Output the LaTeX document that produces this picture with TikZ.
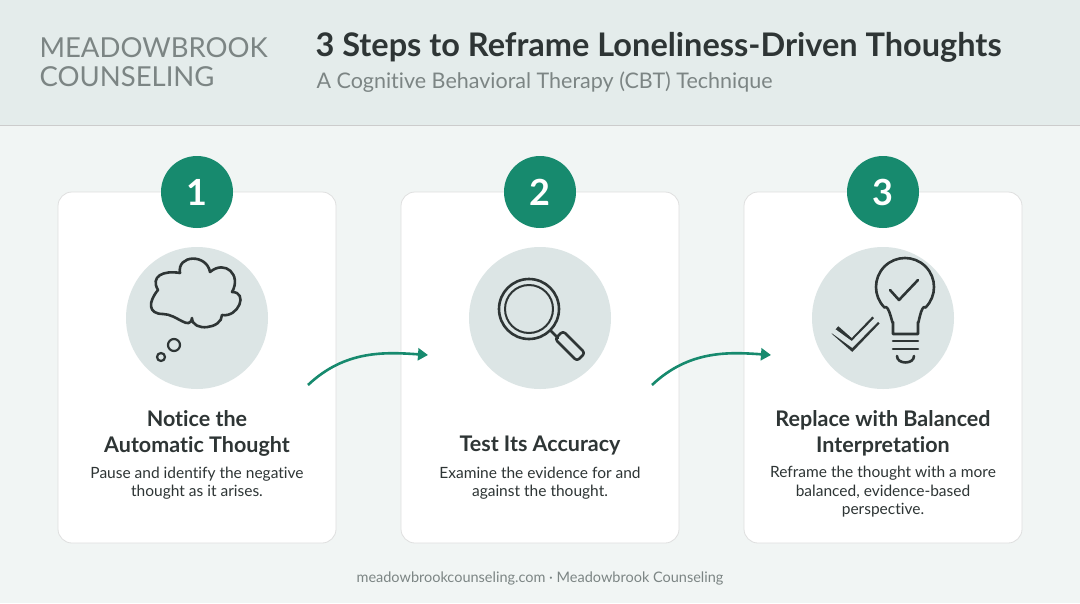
\documentclass[tikz,border=0pt]{standalone}
\usepackage{fontspec}
\setmainfont{Lato}[Ligatures={NoCommon,NoRare}]
\usetikzlibrary{arrows.meta}
\definecolor{hdr}{HTML}{E4ECEB}
\definecolor{bg}{HTML}{F1F5F4}
\definecolor{teal}{HTML}{178A6E}
\definecolor{icbg}{HTML}{DCE5E5}
\definecolor{ink}{HTML}{2E3535}
\definecolor{gr}{HTML}{7C8584}
\begin{document}
\begin{tikzpicture}[x=1pt,y=-1pt,
 card/.style={draw=gray!25,fill=white,rounded corners=14pt,line width=0.8pt},
 num/.style={circle,fill=teal,minimum size=72pt,text=white,font=\fontsize{36}{36}\selectfont\bfseries},
 icon/.style={circle,fill=icbg,minimum size=142pt},
 ttl/.style={font=\fontsize{21.5}{26}\selectfont\bfseries,text=ink,align=center},
 dsc/.style={font=\fontsize{15.5}{18.5}\selectfont,text=ink,align=center},
 ln/.style={draw=ink,line width=2.6pt,line cap=round,line join=round},
 arr/.style={draw=teal,line width=2.6pt,-{Stealth[length=10pt,width=12pt,inset=0pt]}}]
\useasboundingbox (0,0) rectangle (1080,603);
\fill[bg] (0,0) rectangle (1080,603);
\fill[hdr] (0,0) rectangle (1080,125);
\draw[gray!40,line width=1pt] (0,125) -- (1080,125);
\node[anchor=west,text=gr,font=\fontsize{27.5}{29}\selectfont,align=left] (brand) at (36,62) {MEADOWBROOK\\COUNSELING};
\node[anchor=west,text=ink,font=\fontsize{32.5}{33}\selectfont\bfseries] (title) at (312,47) {3 Steps to Reframe Loneliness-Driven Thoughts};
\node[anchor=west,text=gr,font=\fontsize{21.5}{22}\selectfont] (sub) at (313,82) {A Cognitive Behavioral Therapy (CBT) Technique};
% cards
\foreach \i/\x in {1/58,2/401,3/744}{
 \draw[card] (\x,192) rectangle ++(278,351);
}
\foreach \i/\x in {1/197,2/540,3/883}{
 \node[icon] (ic\i) at (\x,318) {};
 \node[num] (n\i) at (\x,192) {\i};
}
% cloud
\draw[ln] (163,314) to[out=180,in=230,looseness=1.6] (158,290)
 to[out=120,in=170,looseness=1.5] (180,273)
 to[out=100,in=100,looseness=1.6] (210,272)
 to[out=40,in=60,looseness=1.7] (232,292)
 to[out=0,in=350,looseness=1.7] (222,315)
 to[out=270,in=270,looseness=1.2] (192,318)
 to[out=260,in=0,looseness=1.2] (163,314);
\draw[ln,line width=2.2pt] (174,345) circle (6);
\draw[ln,line width=2.2pt] (161,357) circle (4);
% magnifier
\draw[ln] (529,309) circle (30);
\draw[ln,line width=2pt] (529,309) circle (24);
\draw[ln] (551,331) -- (558,338);
\draw[ln,rounded corners=3pt] (555,339) -- (563,331) -- (585,353) -- (577,361) -- cycle;
% bulb
\draw[ln] (893,334) -- (893,322) to[out=270,in=45] (884.5,307.5) arc(135:405:29) to[out=135,in=270] (918,322) -- (918,334) -- cycle;
\draw[ln] (893,341) -- (918,341);
\draw[ln] (893,349) -- (918,349);
\draw[ln] (897,356) to[out=-90,in=-90,looseness=1.3] (914,356);
\draw[ln] (890,290) -- (899,300) -- (918,280);
\draw[draw=ink,line width=10pt,line join=miter,line cap=butt] (835,330) -- (852,345) -- (876,320);
\draw[draw=icbg,line width=5.2pt,line join=miter,line cap=butt] (832,330) -- (852,344.5) -- (879,317);
% arrows
\draw[arr] (308,385) .. controls (345,350) and (385,352) .. (428,355);
\draw[arr] (652,385) .. controls (689,350) and (729,352) .. (771,355);
% texts
\node[ttl] (t1) at (197,433) {Notice the\\Automatic Thought};
\node[dsc] (d1) at (197,483) {Pause and identify the negative\\thought as it arises.};
\node[ttl] (t2) at (540,446) {Test Its Accuracy};
\node[dsc] (d2) at (540,483) {Examine the evidence for and\\against the thought.};
\node[ttl] (t3) at (883,433) {Replace with Balanced\\Interpretation};
\node[dsc] (d3) at (883,492) {Reframe the thought with a more\\balanced, evidence-based\\perspective.};
\node[text=gr,font=\fontsize{14.5}{15}\selectfont] (foot) at (540,578) {meadowbrookcounseling.com · Meadowbrook Counseling};
\end{tikzpicture}
\end{document}
